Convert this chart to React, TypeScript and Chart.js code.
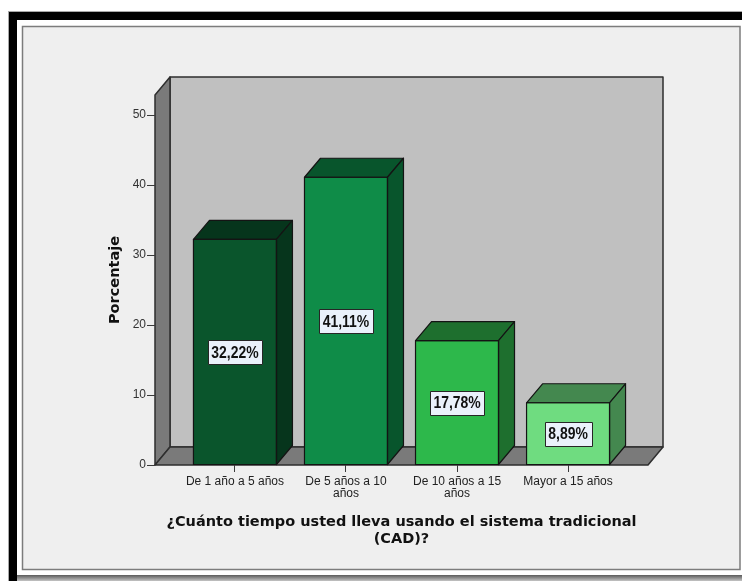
import React, { useEffect, useRef } from "react";
import { Chart, registerables } from "chart.js";

Chart.register(...registerables);

// Answer categories (multi-line where the label wraps)
const categories: string[][] = [
  ["De 1 año a 5 años"],
  ["De 5 años a 10", "años"],
  ["De 10 años a 15", "años"],
  ["Mayor a 15 años"],
];
// Share of respondents, in percent
const percentages = [32.22, 41.11, 17.78, 8.89];
const yTicks = [0, 10, 20, 30, 40, 50];
const frontColors = ["#0a552c", "#0f8c48", "#2db84b", "#6fdc80"];
const shadeColors = ["#06351c", "#08552c", "#1e6f2e", "#44884f"];
const xTitle = ["¿Cuánto tiempo usted lleva usando el sistema tradicional", "(CAD)?"];
const yTitle = "Porcentaje";

const Y_MAX = 52.86;
const X_MIN = -0.72;
const X_MAX = 3.72;

// depth of the 3D extrusion
const BAR_DX = 16;
const BAR_DY = 19;
const WALL_DX = 15;
const WALL_DY = 18;

const W = 742;
const H = 581;

function poly(ctx: CanvasRenderingContext2D, pts: number[][], fill: string, stroke: string, lw = 1) {
  ctx.beginPath();
  ctx.moveTo(pts[0][0], pts[0][1]);
  for (let i = 1; i < pts.length; i++) ctx.lineTo(pts[i][0], pts[i][1]);
  ctx.closePath();
  ctx.fillStyle = fill;
  ctx.fill();
  ctx.strokeStyle = stroke;
  ctx.lineWidth = lw;
  ctx.lineJoin = "round";
  ctx.stroke();
}

const scenePlugin = {
  id: "scene3d",
  beforeDraw(chart: any) {
    const ctx: CanvasRenderingContext2D = chart.ctx;
    const { left, right, top, bottom } = chart.chartArea;
    ctx.save();
    // page and outer frame
    ctx.fillStyle = "#ffffff";
    ctx.fillRect(0, 0, W, H);
    ctx.fillStyle = "#a8a8a8";
    ctx.fillRect(8, 11, W - 8, 1);
    ctx.fillRect(8, 11, 1, H - 11);
    ctx.fillStyle = "#000000";
    ctx.fillRect(9, 12, W - 9, 8);
    ctx.fillRect(9, 12, 8, H - 12);
    const band = ctx.createLinearGradient(0, 575, 0, H);
    band.addColorStop(0, "#5a5a5a");
    band.addColorStop(1, "#c4c4c4");
    ctx.fillStyle = band;
    ctx.fillRect(17, 575, W - 17, H - 575);

    // chart panel
    ctx.fillStyle = "#efefef";
    ctx.fillRect(22, 26, 718, 544);
    ctx.strokeStyle = "#7c7c7c";
    ctx.lineWidth = 1.5;
    ctx.strokeRect(22.5, 26.5, 717.5, 543);

    // back wall, side wall, floor
    const wallStroke = "#2e2e2e";
    poly(ctx, [
      [left + WALL_DX, top - WALL_DY],
      [right + WALL_DX, top - WALL_DY],
      [right + WALL_DX, bottom - WALL_DY],
      [left + WALL_DX, bottom - WALL_DY],
    ], "#c0c0c0", wallStroke, 1.5);
    poly(ctx, [
      [left, top],
      [left + WALL_DX, top - WALL_DY],
      [left + WALL_DX, bottom - WALL_DY],
      [left, bottom],
    ], "#7a7a7a", wallStroke, 1.5);
    poly(ctx, [
      [left, bottom],
      [right, bottom],
      [right + WALL_DX, bottom - WALL_DY],
      [left + WALL_DX, bottom - WALL_DY],
    ], "#7a7a7a", wallStroke, 1.5);
    ctx.restore();
  },
  afterDatasetsDraw(chart: any) {
    const ctx: CanvasRenderingContext2D = chart.ctx;
    const meta = chart.getDatasetMeta(0);
    ctx.save();
    meta.data.forEach((bar: any, i: number) => {
      const { x, y, base, width } = bar.getProps(["x", "y", "base", "width"], true);
      const x0 = x - width / 2;
      const x1 = x + width / 2;
      const edge = "#141414";
      poly(ctx, [
        [x0, y],
        [x1, y],
        [x1 + BAR_DX, y - BAR_DY],
        [x0 + BAR_DX, y - BAR_DY],
      ], shadeColors[i], edge, 1.2);
      poly(ctx, [
        [x1, y],
        [x1 + BAR_DX, y - BAR_DY],
        [x1 + BAR_DX, base - BAR_DY],
        [x1, base],
      ], shadeColors[i], edge, 1.2);
      ctx.strokeStyle = edge;
      ctx.lineWidth = 1.2;
      ctx.strokeRect(x0, y, width, base - y);
    });

    // value labels in boxes at mid-height of each bar
    meta.data.forEach((bar: any, i: number) => {
      const { x, y, base } = bar.getProps(["x", "y", "base"], true);
      const cy = (y + base) / 2;
      const text = percentages[i].toFixed(2).replace(".", ",") + "%";
      ctx.font = "bold 17px 'Liberation Sans', Arial, sans-serif";
      const squeeze = 0.82;
      const tw = ctx.measureText(text).width * squeeze;
      const bw = Math.round(tw + 7);
      const bh = 24;
      const bx = Math.round(x - bw / 2) + 0.5;
      const by = Math.round(cy - bh / 2) + 0.5;
      ctx.fillStyle = "#eaf1fb";
      ctx.fillRect(bx, by, bw, bh);
      ctx.strokeStyle = "#262626";
      ctx.lineWidth = 1;
      ctx.strokeRect(bx, by, bw, bh);
      ctx.save();
      ctx.translate(x, cy + 1);
      ctx.scale(squeeze, 1);
      ctx.fillStyle = "#111111";
      ctx.textAlign = "center";
      ctx.textBaseline = "middle";
      ctx.fillText(text, 0, 0);
      ctx.restore();
    });
    ctx.restore();
  },
};

export default function App() {
  const ref = useRef<HTMLCanvasElement>(null);

  useEffect(() => {
    const canvas = ref.current;
    if (!canvas) return;
    const chart = new Chart(canvas, {
      type: "bar",
      data: {
        datasets: [
          {
            data: percentages.map((v, i) => ({ x: i, y: v })),
            backgroundColor: frontColors,
            borderWidth: 0,
            barThickness: 83,
          },
        ],
      },
      options: {
        responsive: false,
        maintainAspectRatio: false,
        devicePixelRatio: 1,
        animation: false,
        layout: { padding: { top: 95, right: 94, bottom: 0, left: 0 } },
        plugins: {
          legend: { display: false },
          tooltip: { enabled: false },
        },
        scales: {
          x: {
            type: "linear",
            offset: false,
            bounds: "ticks",
            min: X_MIN,
            max: X_MAX,
            afterBuildTicks: (scale: any) => {
              scale.ticks = categories.map((_, i) => ({ value: i }));
            },
            afterFit: (scale: any) => {
              scale.height = H - 465;
            },
            border: { display: false },
            grid: {
              display: true,
              offset: false,
              drawOnChartArea: false,
              drawTicks: true,
              tickLength: 7,
              color: "#3a3a3a",
              lineWidth: 1,
            },
            ticks: {
              autoSkip: false,
              maxRotation: 0,
              minRotation: 0,
              padding: 4,
              color: "#222222",
              font: { family: "'Liberation Sans', Arial, sans-serif", size: 12, lineHeight: 1.0 },
              callback: (v: any) => categories[Math.round(Number(v))] ?? "",
            },
            title: {
              display: true,
              text: xTitle,
              color: "#111111",
              font: { family: "'DejaVu Sans', sans-serif", size: 14.5, weight: "bold", lineHeight: 17 / 14.5 },
              padding: { top: 0, bottom: 33.5 },
            },
          },
          y: {
            type: "linear",
            min: 0,
            max: Y_MAX,
            afterBuildTicks: (scale: any) => {
              scale.ticks = yTicks.map((v) => ({ value: v }));
            },
            afterFit: (scale: any) => {
              scale.width = 155;
            },
            border: { display: false },
            grid: {
              display: true,
              drawOnChartArea: false,
              drawTicks: true,
              tickLength: 8,
              color: "#3a3a3a",
              lineWidth: 1,
            },
            ticks: {
              padding: 1,
              color: "#333333",
              font: { family: "'Liberation Sans', Arial, sans-serif", size: 12 },
            },
            title: {
              display: true,
              text: yTitle,
              color: "#111111",
              font: { family: "'DejaVu Sans', sans-serif", size: 14.5, weight: "bold", lineHeight: 1.2 },
              padding: { top: 115 - 8.7, bottom: 0 },
            },
          },
        },
      },
      plugins: [scenePlugin],
    });
    return () => chart.destroy();
  }, []);

  return (
    <div style={{ position: "fixed", left: 0, top: 0, width: W, height: H, background: "#ffffff" }}>
      <canvas ref={ref} width={W} height={H} style={{ display: "block", width: W, height: H }} />
    </div>
  );
}
